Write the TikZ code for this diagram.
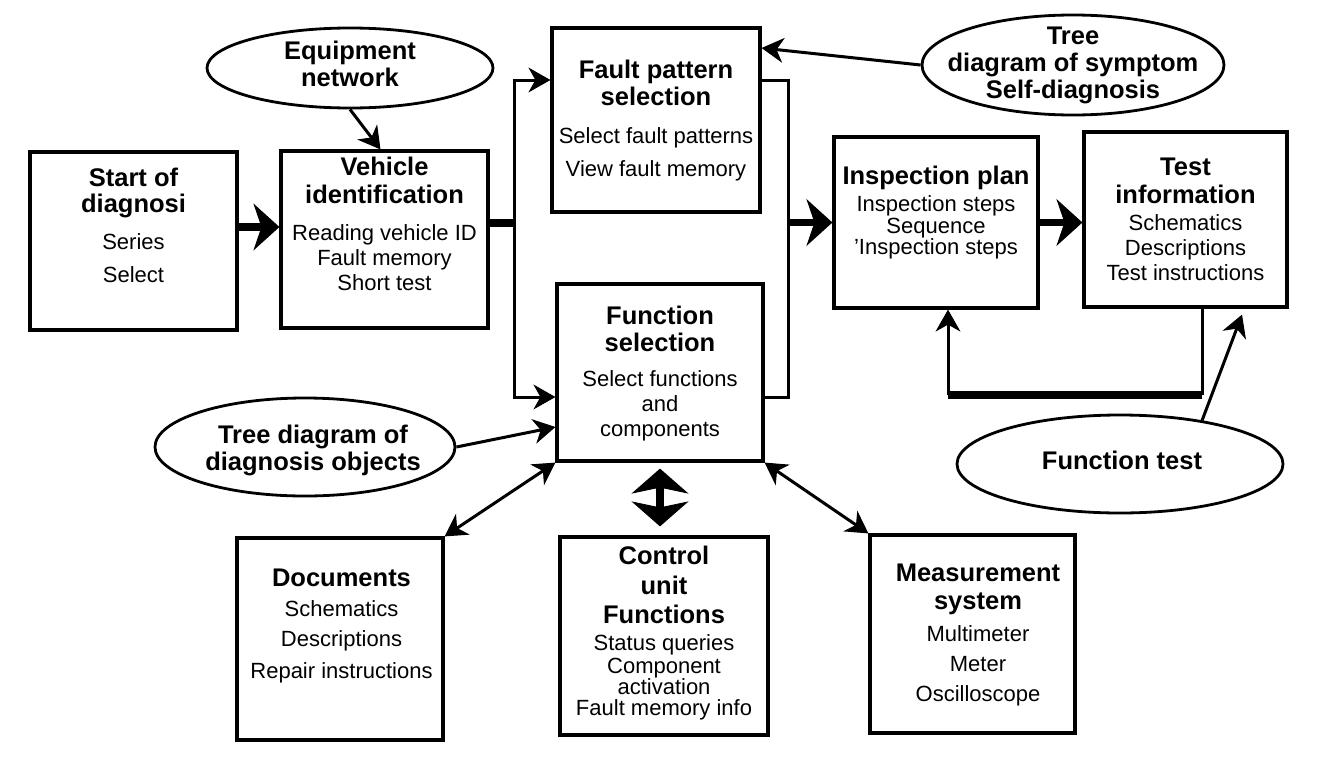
\documentclass[tikz,border=0pt]{standalone}
\usepackage{fontspec}
\setmainfont{Liberation Sans}
\usetikzlibrary{arrows.meta, shapes.geometric}

\newcommand\hdfont{\bfseries\fontsize{25.5}{27}\selectfont}
\newcommand\txtfont{\fontsize{22}{25}\selectfont}

\tikzset{
  box/.style={draw, line width=3.2pt, inner sep=0pt},
  bubble/.style={draw, ellipse, line width=2.8pt, inner sep=0pt},
  txt/.style={align=center, font=\txtfont, inner sep=0pt},
  link/.style={line width=3pt},
  thickline/.style={line width=7.5pt},
  heavyline/.style={line width=8pt},
  midarrow/.style={link, -{Stealth[length=22pt, width=25pt, inset=7pt, line width=1pt]}},
  twoway/.style={link, {Stealth[length=22pt, width=25pt, inset=7pt, line width=1pt]}-{Stealth[length=22pt, width=25pt, inset=7pt, line width=1pt]}},
  bigarrow/.style={thickline, -{Stealth[length=26pt, width=47pt, inset=8pt, line width=1pt]}},
  fatdouble/.style={heavyline, {Stealth[length=25pt, width=57pt, inset=6pt, line width=1pt]}-{Stealth[length=25pt, width=57pt, inset=6pt, line width=1pt]}}
}

\begin{document}
\begin{tikzpicture}[x=1pt, y=-1pt]
  \useasboundingbox (0,0) rectangle (1328,758);

  % boxes
  \foreach \n/\x/\y/\w/\h in {start/133.5/241/207/178, vehicle/384.5/239.5/207/177,
      fault/656/120/208/184, func/660/372.5/206/177, insp/936/222.5/204/171,
      test/1185.5/219.5/203/175, docs/340/639/206/202, ctrl/664/636/208/198,
      meas/972.5/634/205/198} {
    \node[box, minimum width=\w pt, minimum height=\h pt] (\n) at (\x,\y) {};
  }

  % bubbles
  \foreach \n/\x/\y/\w/\h in {equip/350/68/286/80, symp/1073/65/302/100,
      ftest/1120/464/326/98, treeobj/305/447/300/98} {
    \node[bubble, minimum width=\w pt, minimum height=\h pt] (\n) at (\x,\y) {};
  }

  % texts
  \node[txt] (start-t) at ([yshift=16pt]start) {{\hdfont Start of}\\[1pt]{\hdfont diagnosi}\\[12pt]Series\\[8pt]Select};
  \node[txt] (vehicle-t) at ([yshift=15.5pt]vehicle) {{\hdfont Vehicle}\\[3pt]{\hdfont identification}\\[12pt]Reading vehicle ID\\Fault memory\\Short test};
  \node[txt] (fault-t) at ([yshift=-1pt]fault) {{\hdfont Fault pattern}\\[2pt]{\hdfont selection}\\[13pt]Select fault patterns\\[8pt]View fault memory};
  \node[txt] (func-t) at ([yshift=-1.5pt]func) {{\hdfont Function}\\[2pt]{\hdfont selection}\\[10pt]Select functions\\and\\components};
  \node[txt] (insp-t) at ([yshift=9.5pt]insp) {{\hdfont Inspection plan}\\[2pt]Inspection steps\\[-3pt]Sequence\\[-4pt]'Inspection steps};
  \node[txt] (test-t) at (test) {{\hdfont Test}\\[3pt]{\hdfont information}\\[2pt]Schematics\\Descriptions\\Test instructions};
  \node[txt] (docs-t) at ([xshift=1.5pt,yshift=13pt]docs) {{\hdfont Documents}\\[5pt]Schematics\\[5pt]Descriptions\\[7pt]Repair instructions};
  \node[txt] (ctrl-t) at ([yshift=3pt]ctrl) {{\hdfont Control}\\[5pt]{\hdfont unit}\\[4pt]{\hdfont Functions}\\[2pt]Status queries\\[-2pt]Component\\[-4pt]activation\\[-4pt]Fault memory info};
  \node[txt] (meas-t) at ([xshift=5.5pt,yshift=-1pt]meas) {{\hdfont Measurement}\\[3pt]{\hdfont system}\\[7pt]Multimeter\\[5pt]Meter\\[5pt]Oscilloscope};
  \node[txt] (equip-t) at ([yshift=4.5pt]equip) {{\hdfont Equipment}\\[2pt]{\hdfont network}};
  \node[txt] (symp-t) at (symp) {{\hdfont Tree}\\[2pt]{\hdfont diagram of symptom}\\[2pt]{\hdfont Self-diagnosis}};
  \node[txt] (ftest-t) at ([xshift=2pt,yshift=4pt]ftest) {\hdfont Function test};
  \node[txt] (treeobj-t) at ([xshift=8pt,yshift=-3pt]treeobj) {{\hdfont Tree diagram of}\\[2pt]{\hdfont diagnosis objects}};

  % main flow
  \draw[bigarrow] ([yshift=14pt]start.east) -- ([yshift=12.5pt]vehicle.west);
  \draw[midarrow] (equip.south) -- ([xshift=-4pt]vehicle.north);
  \draw[thickline] ([yshift=16.5pt]vehicle.east) -- ++(25,0) coordinate (lb);
  \draw[midarrow] (lb) |- ([yshift=40pt]fault.west);
  \draw[midarrow] (lb) |- ([yshift=-24.5pt]func.west);
  \path (insp.west) ++(-44,0) coordinate (rb);
  \draw[link] ([yshift=40pt]fault.east) -| (rb) |- ([yshift=-24.5pt]func.east);
  \draw[bigarrow] (rb) -- (insp.west);
  \draw[midarrow] (symp.west) -- ([yshift=72pt]fault.east);
  \draw[bigarrow] (insp.east) -- (insp.east -| test.west);

  % loop back
  \coordinate (fbr) at (1202,395);
  \coordinate (fbl) at (948,395);
  \draw[link] (fbr |- test.south) -- (fbr);
  \draw[heavyline] (fbr) -- (fbl);
  \draw[midarrow] (fbl) -- (fbl |- insp.south);
  \draw[midarrow] (ftest.28) -- ([xshift=56.5pt,yshift=-6pt]test.south);

  % lower part
  \draw[midarrow] (treeobj.east) -- ([yshift=-54.5pt]func.west);
  \draw[twoway] (func.south west) -- (docs.north east);
  \draw[twoway] (func.south east) -- (meas.north west);
  \draw[fatdouble, shorten <=6pt, shorten >=9pt] (func.south) -- (func.south |- ctrl.north);
\end{tikzpicture}
\end{document}
